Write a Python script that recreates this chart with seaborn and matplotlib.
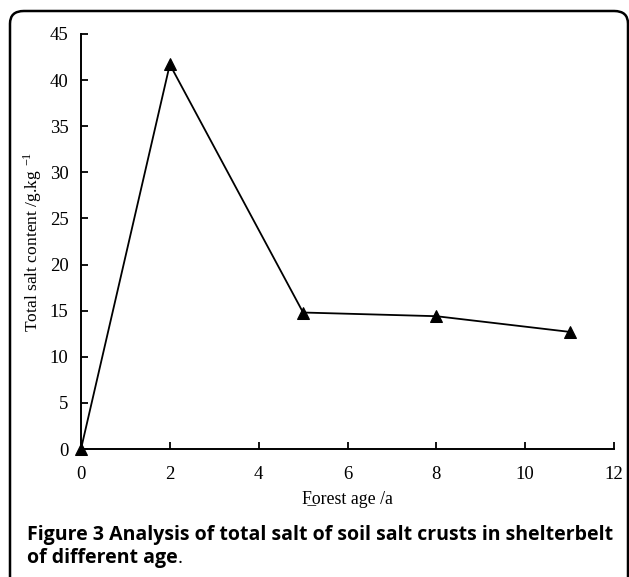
import matplotlib
matplotlib.use("Agg")
import matplotlib.pyplot as plt
import seaborn as sns
import pandas as pd
from matplotlib.patches import FancyBboxPatch

forest_age = [0, 2, 5, 8, 11]
total_salt = [0.0, 41.7, 14.8, 14.4, 12.7]
x_ticks = [0, 2, 4, 6, 8, 10, 12]
y_ticks = [0, 5, 10, 15, 20, 25, 30, 35, 40, 45]

sns.set_theme(style="white")
plt.rcParams['font.family'] = ['Liberation Serif', 'DejaVu Serif']
plt.rcParams['mathtext.fontset'] = 'stix'

W, H = 629, 577
fig = plt.figure(figsize=(W / 100, H / 100), dpi=100)
ax = fig.add_axes([81 / W, 1 - 449 / H, (614 - 81) / W, (449 - 34) / H])

df = pd.DataFrame({"age": forest_age, "salt": total_salt})
sns.lineplot(data=df, x="age", y="salt", ax=ax, color="black", linewidth=1.3,
             marker="^", markersize=8, markeredgecolor="black", markerfacecolor="black",
             clip_on=False)

ax.set_xlim(0, 12)
ax.set_ylim(0, 45)
ax.set_xticks(x_ticks)
ax.set_yticks(y_ticks)
ax.set_xticklabels([str(t) for t in x_ticks])
ax.set_yticklabels([str(t) for t in y_ticks])
for s in ["top", "right"]:
    ax.spines[s].set_visible(False)
for s in ["left", "bottom"]:
    ax.spines[s].set_color("black")
    ax.spines[s].set_linewidth(1.4)
ax.tick_params(axis="both", direction="in", length=5, width=1.3, colors="black",
               labelsize=13.5, left=True, bottom=True)
ax.tick_params(axis="y", pad=9)
ax.tick_params(axis="x", pad=12)
ax.set_xlabel("F\u0332orest age /a", fontsize=12.8, color="black", labelpad=6)
ax.set_ylabel("Total salt content /g.kg $^{\\mathregular{-1}}$", fontsize=12.6, color="black")
ax.yaxis.set_label_coords(44 / W, 1 - 242 / H, transform=fig.transFigure)

# rounded frame
frame = FancyBboxPatch((10 / W, -0.05), (628 - 10) / W, 1 - 11 / H + 0.05,
                       boxstyle="round,pad=0,rounding_size=0.022",
                       transform=fig.transFigure, fill=False, edgecolor="black",
                       linewidth=1.8, clip_on=False)
fig.patches.append(frame)

cap_family = ["Open Sans", "DejaVu Sans"]
renderer = fig.canvas.get_renderer()


def caption_run(parts, x_px, baseline_px):
    x = x_px
    for txt, weight in parts:
        t = fig.text(x / W, 1 - baseline_px / H, txt, fontsize=14, fontweight=weight,
                     family=cap_family, color="black", ha="left", va="baseline")
        bb = t.get_window_extent(renderer=renderer)
        x += bb.width


caption_run([("Figure 3 Analysis of total salt of soil salt crusts in shelterbelt", "bold")], 27, 540)
caption_run([("of different age", "bold"), (".", "normal")], 27, 563)

fig.savefig("out.png", dpi=100)
